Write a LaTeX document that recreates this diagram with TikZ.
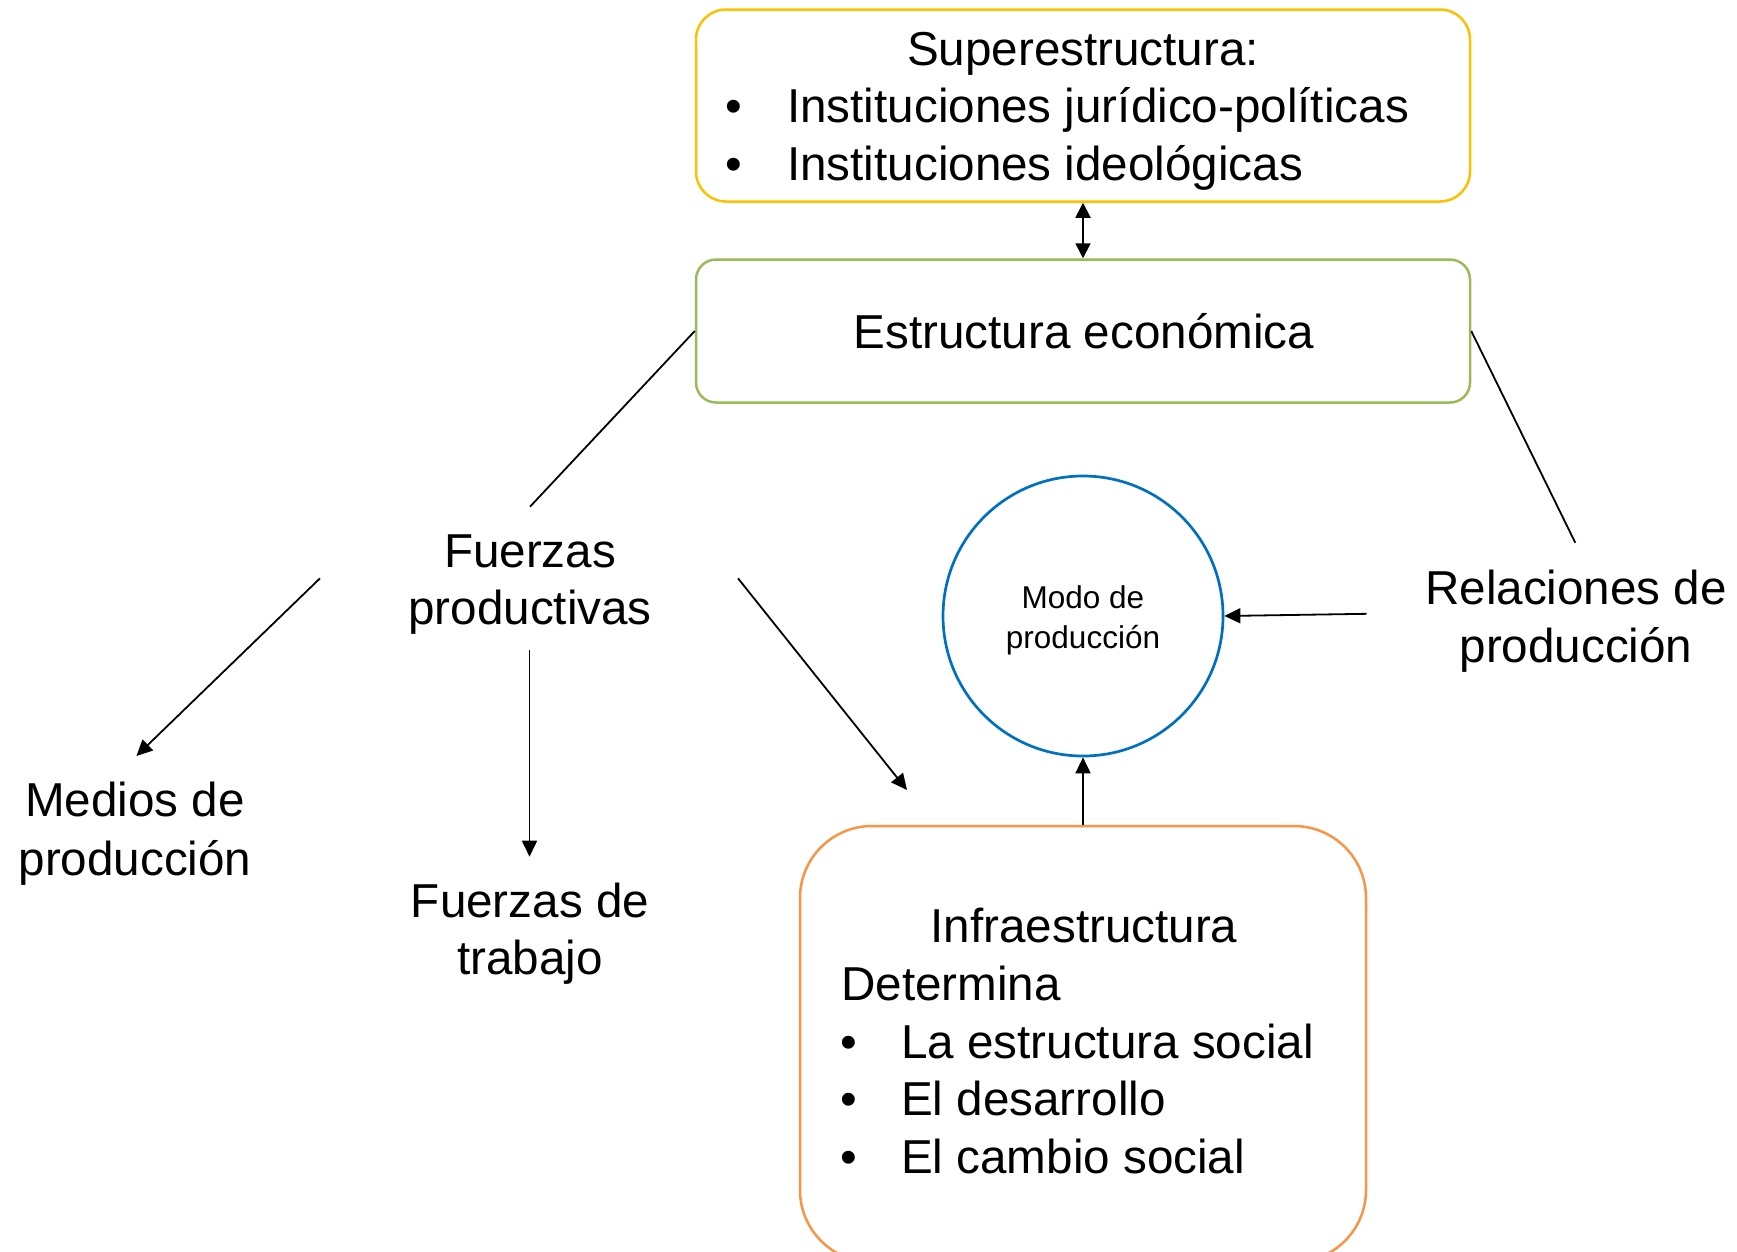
\documentclass[tikz,border=0pt]{standalone}
\usepackage{fontspec}
\setmainfont{Liberation Sans}
\usetikzlibrary{arrows.meta}
\definecolor{supc}{HTML}{FFC000}
\definecolor{estc}{HTML}{9BBB59}
\definecolor{modc}{HTML}{0070C0}
\definecolor{infc}{HTML}{F79646}
\begin{document}
\begin{tikzpicture}[x=1pt,y=-1pt,
  big/.style={font=\fontsize{47.6}{57.5}\selectfont, inner sep=0pt},
  smalltxt/.style={font=\fontsize{31.5}{40}\selectfont, inner sep=0pt},
  box/.style={draw, line width=2.5pt, inner sep=0pt, rectangle},
  conn/.style={line width=1.8pt, -{Triangle[length=16pt,width=15pt]}},
  dconn/.style={line width=1.8pt, {Triangle[length=15pt,width=15pt]}-{Triangle[length=15pt,width=15pt]}},
  plainline/.style={line width=1.8pt}]
\useasboundingbox (0,0) rectangle (1737,1251);
\clip (0,0) rectangle (1737,1251);
\fill[white] (0,0) rectangle (1737,1251);

% boxes
\node[box, draw=supc, rounded corners=30pt, minimum width=774pt, minimum height=192pt] (sup) at (1083,105.5) {};
\node[box, draw=estc, rounded corners=20pt, minimum width=774pt, minimum height=143pt] (estr) at (1083,331) {};
\node[box, draw=infc, rounded corners=72pt, minimum width=566pt, minimum height=436pt] (infra) at (1083,1044) {};
\node[draw=modc, circle, line width=2.7pt, minimum size=280pt, inner sep=0pt] (modo) at (1083,616) {};

% superestructura text
\node[big, anchor=base] (supT) at (1083,65) {Superestructura:};
\node[big, anchor=base] (supB1) at (734,122.7) {•};
\node[big, anchor=base west] (supL1) at (787,122.7) {Instituciones jurídico-políticas};
\node[big, anchor=base] (supB2) at (734,180) {•};
\node[big, anchor=base west] (supL2) at (787,180) {Instituciones ideológicas};

% estructura text
\node[big, anchor=base] (estT) at (1084,348.3) {Estructura económica};

% modo text
\node[smalltxt, anchor=base] (modT1) at (1083,608.3) {Modo de};
\node[smalltxt, anchor=base] (modT2) at (1083,648.3) {producción};

% infraestructura text
\node[big, anchor=base] (infT) at (1084,942.7) {Infraestructura};
\node[big, anchor=base west] (infD) at (841,1000) {Determina};
\node[big, anchor=base] (infB1) at (849,1058.3) {•};
\node[big, anchor=base west] (infL1) at (901,1058.3) {La estructura social};
\node[big, anchor=base] (infB2) at (849,1115.5) {•};
\node[big, anchor=base west] (infL2) at (901,1115.5) {El desarrollo};
\node[big, anchor=base] (infB3) at (849,1173) {•};
\node[big, anchor=base west] (infL3) at (901,1173) {El cambio social};

% free labels
\node[big, anchor=base] (fp1) at (530,567.3) {Fuerzas};
\node[big, anchor=base] (fp2) at (530,624) {productivas};
\node[big, anchor=base] (md1) at (135,816.7) {Medios de};
\node[big, anchor=base] (md2) at (135,875) {producción};
\node[big, anchor=base] (ft1) at (530,917.3) {Fuerzas de};
\node[big, anchor=base] (ft2) at (530,974) {trabajo};
\node[big, anchor=base] (rp1) at (1576,604) {Relaciones de};
\node[big, anchor=base] (rp2) at (1576,662) {producción};

% connector end points
\coordinate (fpTop) at (530,506.7);
\coordinate (relTop) at (1575.3,542.8);
\coordinate (fpL) at (320,578.3);
\coordinate (mdTip) at (136.4,756);
\coordinate (fpB) at (529.5,650);
\coordinate (ftTip) at (529.5,856.7);
\coordinate (fpR) at (738,578.3);
\coordinate (infTip) at (907,790);
\coordinate (relIn) at (1366.7,613.8);

% connectors
\draw[dconn] (sup.south) -- (estr.north);
\draw[plainline] (estr.west) -- (fpTop);
\draw[plainline] (estr.east) -- (relTop);
\draw[conn] (fpL) -- (mdTip);
\draw[conn] (fpB) -- (ftTip);
\draw[conn] (fpR) -- (infTip);
\draw[conn] (infra.north) -- (modo.south);
\draw[conn] (relIn) -- (modo.east);
\end{tikzpicture}
\end{document}
